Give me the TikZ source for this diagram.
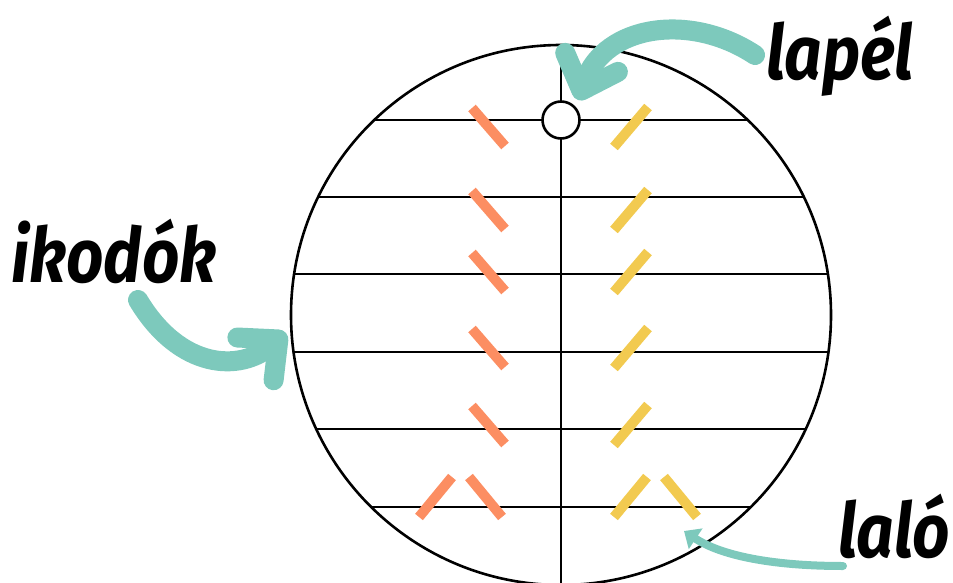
\documentclass[tikz,border=0pt]{standalone}
\usepackage{fontspec}
\setmainfont{Fira Sans}
\usepackage{xcolor}
\definecolor{brushteal}{RGB}{125,201,188}
\definecolor{markorange}{RGB}{252,142,98}
\definecolor{markyellow}{RGB}{242,202,80}
\usetikzlibrary{arrows.meta,calc}
\newcommand{\narrow}[1]{\scalebox{0.86}[1]{#1}}

\begin{document}
\begin{tikzpicture}[
  x=1pt,y=-1pt,
  chord/.style={line width=2.6pt,black},
  leftmark/.style={line width=10pt,color=markorange},
  rightmark/.style={line width=10pt,color=markyellow},
  brush/.style={line width=20pt,color=brushteal,line cap=round,
    -{Straight Barb[length=30pt,width=56pt,line cap=round,line join=round]}},
  thinbrush/.style={line width=8pt,color=brushteal,line cap=round,
    -{Triangle[length=14pt,width=24pt]}},
  bigword/.style={font=\fontsize{76}{80}\selectfont\bfseries\itshape,
    inner sep=0pt,anchor=base west}
]
  \useasboundingbox (0,0) rectangle (953,583);

  % circle with its chords
  \begin{scope}
    \clip (561,315) circle[radius=270];
    \foreach \y in {120,197,274,352,429,507}
      \draw[chord] (280,\y) -- (850,\y);
    \draw[chord] (561,40) -- (561,590);
  \end{scope}
  \draw[chord] (561,315) circle[radius=270];
  \node[circle,draw,fill=white,line width=2.6pt,minimum size=37pt,
    inner sep=0pt] (hole) at (561,120) {};

  % marks
  \foreach \y in {127,210,272,348,425}{
    \draw[leftmark] (472,\y-19) -- ++(33,38);
    \draw[rightmark] (614,\y+20) -- ++(34,-40);
  }
  \draw[leftmark] (419,517) -- ++(33,-40);
  \draw[leftmark] (469,477) -- ++(33,40);
  \draw[rightmark] (614,517) -- ++(33,-40);
  \draw[rightmark] (664,477) -- ++(33,40);

  % labels
  \node[bigword] (lapel) at (766,80) {\narrow{lapél}};
  \node[bigword] (ikodok) at (11,282) {\narrow{ikodók}};
  \node[bigword] (lalo) at (838,557) {\narrow{laló}};

  \coordinate (lapelTail) at (755,55);
  \coordinate (lapelTip) at (578,100);
  \coordinate (ikodokTail) at (138,300);
  \coordinate (ikodokTip) at (286,333);
  \coordinate (laloTail) at (843,566);
  \coordinate (laloTip) at (684,531);

  \draw[brush] (lapelTail) .. controls (690,12) and (605,25) .. (lapelTip);
  \draw[brush] (ikodokTail) .. controls (180,370) and (240,372) .. (ikodokTip);
  \draw[thinbrush] (laloTail) .. controls (770,566) and (720,555) .. (laloTip);
\end{tikzpicture}
\end{document}
